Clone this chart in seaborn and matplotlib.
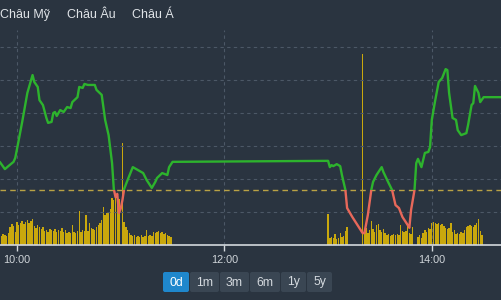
import numpy as np
import pandas as pd
import matplotlib
matplotlib.use("Agg")
import matplotlib.pyplot as plt
from matplotlib.patches import Rectangle, FancyBboxPatch
import seaborn as sns

# ---------------- data ----------------
price_times = ["09:50", "09:53", "09:55", "09:58", "09:59", "10:01", "10:03", "10:06", "10:09", "10:10",
               "10:12", "10:13", "10:15", "10:17", "10:18", "10:20", "10:21", "10:22", "10:23", "10:25",
               "10:27", "10:29", "10:31", "10:32", "10:35", "10:36", "10:38", "10:39", "10:41", "10:45",
               "10:46", "10:49", "10:51", "10:53", "10:55", "10:56", "10:57", "10:58", "10:59", "11:00",
               "11:01", "11:02", "11:04", "11:07", "11:10", "11:13", "11:15", "11:18", "11:20", "11:21",
               "11:24", "11:27", "11:28", "11:30",
               "13:00", "13:01", "13:02", "13:03", "13:05", "13:07", "13:08", "13:10", "13:11", "13:14",
               "13:20", "13:21", "13:23", "13:25", "13:26", "13:28", "13:31", "13:32", "13:35", "13:37",
               "13:39", "13:41", "13:43", "13:46", "13:47", "13:48", "13:50", "13:51", "13:52", "13:54",
               "13:56", "13:58", "13:59", "14:00", "14:02", "14:04", "14:06", "14:08", "14:09", "14:10",
               "14:12", "14:14", "14:15", "14:17", "14:20", "14:21", "14:23", "14:24", "14:25", "14:27",
               "14:28", "14:30", "14:45"]
price_values = [1232.52, 1232.30, 1232.39, 1232.52, 1232.64, 1233.18, 1233.73, 1234.61, 1235.15, 1234.94,
                1234.79, 1234.39, 1234.24, 1233.85, 1233.70, 1233.73, 1234.00, 1234.03, 1233.91, 1234.09,
                1234.03, 1234.18, 1234.15, 1234.33, 1234.48, 1234.79, 1234.76, 1234.88, 1234.85, 1234.85,
                1234.70, 1234.55, 1233.79, 1233.33, 1232.48, 1231.70, 1231.45, 1231.55, 1230.97, 1231.10,
                1231.36, 1231.70, 1231.97, 1232.36, 1232.27, 1232.18, 1231.97, 1231.73, 1231.91, 1232.03,
                1232.18, 1232.12, 1232.36, 1232.52,
                1232.55, 1232.36, 1232.42, 1232.39, 1232.45, 1232.39, 1232.12, 1231.67, 1231.12, 1230.85,
                1230.36, 1230.36, 1230.91, 1231.67, 1231.91, 1232.12, 1232.36, 1232.21, 1231.88, 1231.67,
                1231.21, 1231.12, 1230.85, 1230.61, 1230.52, 1231.06, 1231.67, 1232.48, 1232.61, 1232.36,
                1232.79, 1232.82, 1232.97, 1233.79, 1234.39, 1234.94, 1235.06, 1235.33, 1235.30, 1234.61,
                1233.85, 1233.79, 1233.48, 1233.33, 1233.39, 1233.64, 1234.24, 1234.30, 1234.82, 1234.61,
                1234.33, 1234.48, 1234.48]
reference_price = 1231.67

# volume per minute (thousand shares), morning session from 09:50, afternoon from 13:00
morning_start = "09:50"
morning_volume = [100, 90, 110, 100, 90, 120, 180, 210, 190, 130,
                  230, 200, 220, 240, 210, 230, 250, 220, 240, 260,
                  190, 170, 200, 180, 160, 180, 140, 150, 130, 160,
                  150, 140, 160, 130, 150, 140, 170, 130, 150, 120,
                  130, 120, 200, 130, 120, 140, 340, 130, 150, 140,
                  300, 140, 220, 170, 160, 150, 180, 200, 220, 250,
                  380, 300, 320, 330, 360, 470, 450, 480, 420, 460,
                  0, 1020, 230, 180, 150, 120, 100, 90, 100, 80,
                  90, 80, 100, 80, 90, 150, 90, 100, 90, 130,
                  120, 130, 140, 120, 130, 110, 120, 100, 90, 80]
afternoon_start = "13:00"
afternoon_volume = [310, 70, 80, 70, 110, 60, 70, 120, 80, 90,
                    140, 180, 0, 0, 0, 0, 0, 0, 0, 0,
                    1910, 140, 170, 120, 150, 240, 160, 130, 200, 210,
                    150, 130, 160, 120, 100, 110, 90, 100, 110, 100,
                    110, 100, 200, 140, 130, 140, 200, 120, 110, 180,
                    0, 0, 80, 100, 70, 120, 150, 130, 170, 160,
                    220, 230, 220, 210, 220, 200, 210, 190, 170, 160,
                    170, 220, 130, 150, 110, 120, 110, 130, 120, 150,
                    180, 190, 200, 190, 180, 200, 220, 260, 140, 100]

tab_labels = ["Châu Mỹ", "Châu Âu", "Châu Á"]
range_buttons = ["0d", "1m", "3m", "6m", "1y", "5y"]
tick_labels = ["10:00", "12:00", "14:00"]

# ---------------- helpers ----------------
def to_min(s):
    h, m = s.split(":")
    return (int(h) - 9) * 60 + int(m)

pm = np.array([to_min(t) for t in price_times], dtype=float)
pp = np.array(price_values)
vm = np.concatenate([to_min(morning_start) + np.arange(len(morning_volume)),
                     to_min(afternoon_start) + np.arange(len(afternoon_volume))]).astype(int)
vv = np.array(morning_volume + afternoon_volume, dtype=float)
df_price = pd.DataFrame({"t": pm, "p": pp})
df_vol = pd.DataFrame({"t": vm, "v": vv})

BG = "#2a3440"
GOLD = "#c9a80d"
GREEN = "#2db32d"
RED = "#e8685a"
GRID = "#4c5866"
AXIS = "#d3d8dd"
TXT = "#dfe3e7"

sns.set_theme(style="dark")
plt.rcParams["font.family"] = ["Liberation Sans", "DejaVu Sans"]

W, H = 501, 300
fig = plt.figure(figsize=(W / 100, H / 100), dpi=100, facecolor=BG)

x0 = 60 - 17 * 60 / 103.7
x1 = x0 + W * 60 / 103.7

# volume axis
ax = fig.add_axes([0, 55 / H, 1, 215 / H])
ax.set_facecolor(BG)
sns.histplot(data=df_vol, x="t", weights="v", discrete=True, shrink=0.8, color=GOLD,
             alpha=1, linewidth=0, edgecolor="none", ax=ax)
ax.set_ylim(0, 2150)
ax.set_xlim(x0, x1)
ax.set_yticks([])
ax.set_xlabel("")
ax.set_ylabel("")
ax.set_xticks([to_min(t) for t in tick_labels])
ax.set_xticklabels(tick_labels)
ax.tick_params(axis="x", colors=AXIS, labelcolor="#cfd4d9", labelsize=7.8,
               length=4, width=1, direction="out", pad=3, bottom=True)
ax.xaxis.grid(True, color=GRID, linestyle=(0, (3, 3)), linewidth=0.8)
ax.yaxis.grid(False)
for s in ["top", "left", "right"]:
    ax.spines[s].set_visible(False)
ax.spines["bottom"].set_color(AXIS)
ax.spines["bottom"].set_linewidth(1.2)

# price axis
axp = ax.twinx()
axp.axhline(reference_price, color="#b9a245", linestyle=(0, (4, 3)), linewidth=1.0, zorder=2)

n0 = len(axp.lines)
sns.lineplot(data=df_price, x="t", y="p", ax=axp, color=GREEN, linewidth=1.7, sort=False)
sns.lineplot(data=df_price, x="t", y="p", ax=axp, color=RED, linewidth=1.7, sort=False)
lines = axp.lines[n0:]
up = Rectangle((x0 - 10, reference_price), 1000, 100, transform=axp.transData)
dn = Rectangle((x0 - 10, reference_price - 100), 1000, 100, transform=axp.transData)
lines[0].set_clip_path(up)
lines[1].set_clip_path(dn)

axp.set_ylim(1230, 1230 + 215 / 33)
axp.set_xlim(x0, x1)
axp.set_yticks([1231, 1232, 1233, 1234, 1235, 1236])
axp.set_yticklabels([])
axp.tick_params(axis="y", length=0, right=False)
axp.yaxis.grid(True, color=GRID, linestyle=(0, (3, 3)), linewidth=0.8)
axp.xaxis.grid(False)
axp.patch.set_alpha(0)
for s in axp.spines.values():
    s.set_visible(False)
axp.set_ylabel("")
axp.set_xlabel("")

# overlay in pixel coordinates for tabs and buttons
ov = fig.add_axes([0, 0, 1, 1], zorder=5)
ov.set_xlim(0, W)
ov.set_ylim(H, 0)
ov.axis("off")
ov.patch.set_alpha(0)

tab_x = [0, 67, 132]
for lbl, tx in zip(tab_labels, tab_x):
    ov.text(tx, 15, lbl, color=TXT, fontsize=9.0, ha="left", va="center")

btn_edges = [163, 190, 220, 250, 281, 307, 333]
for i, lbl in enumerate(range_buttons):
    bx0, bx1 = btn_edges[i], btn_edges[i + 1] - 1
    col = "#1f87cc" if i == 0 else "#3a4653"
    ov.add_patch(FancyBboxPatch((bx0, 272), bx1 - bx0, 20,
                                boxstyle="round,pad=0,rounding_size=2",
                                facecolor=col, edgecolor="none"))
    ov.text((bx0 + bx1) / 2, 282.5, lbl, color="#ffffff" if i == 0 else "#d5dadf",
            fontsize=8.8, ha="center", va="center")

fig.savefig("out.png", dpi=100, facecolor=BG)
